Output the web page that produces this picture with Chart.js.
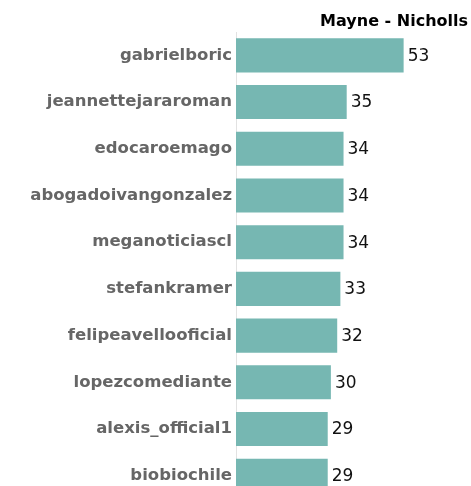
<!DOCTYPE html>
<html>
<head>
<meta charset="utf-8">
<script src="https://cdn.jsdelivr.net/npm/chart.js@4/dist/chart.umd.min.js"></script>
<style>
  html, body { margin: 0; padding: 0; background: #fff; overflow: hidden; }
  #wrap { position: relative; width: 471px; height: 513px; }
</style>
</head>
<body>
<div id="wrap"><canvas id="c" width="471" height="513"></canvas></div>
<script>
const titleText = "Mayne - Nicholls";
const categories = ["gabrielboric", "jeannettejararoman", "edocaroemago", "abogadoivangonzalez", "meganoticiascl", "stefankramer", "felipeavellooficial", "lopezcomediante", "alexis_official1", "biobiochile"];
const values = [53, 35, 34, 34, 34, 33, 32, 30, 29, 29];
const FONT = "'DejaVu Sans', sans-serif";

const labelPlugin = {
  id: 'valueLabels',
  afterDatasetsDraw(chart) {
    const ctx = chart.ctx;
    const meta = chart.getDatasetMeta(0);
    ctx.save();
    ctx.font = "17px " + FONT;
    ctx.fillStyle = "#111";
    ctx.textAlign = "left";
    ctx.textBaseline = "middle";
    meta.data.forEach((bar, i) => {
      ctx.fillText(String(values[i]), bar.x + 4, bar.y + 1);
    });
    ctx.restore();
  }
};

const titlePlugin = {
  id: 'rightTitle',
  afterDraw(chart) {
    const ctx = chart.ctx;
    ctx.save();
    ctx.font = "bold 16px " + FONT;
    ctx.fillStyle = "#000";
    ctx.textAlign = "right";
    ctx.textBaseline = "middle";
    ctx.fillText(titleText, 468, 22);
    ctx.restore();
  }
};

new Chart(document.getElementById('c'), {
  type: 'bar',
  data: {
    labels: categories,
    datasets: [{
      data: values,
      backgroundColor: '#76b7b2',
      borderWidth: 0,
      barPercentage: 0.73,
      categoryPercentage: 1.0
    }]
  },
  options: {
    indexAxis: 'y',
    responsive: false,
    animation: false,
    layout: { padding: { top: 32, right: 0, bottom: 0, left: 0 } },
    plugins: { legend: { display: false }, tooltip: { enabled: false }, title: { display: false } },
    scales: {
      x: { display: false, min: 0, max: 74.3 },
      y: {
        grid: { display: false, drawTicks: false },
        border: { display: true, color: '#e2e2e2', dash: [1, 2], width: 1 },
        ticks: { color: '#666', font: { family: FONT, weight: 'bold', size: 16.5 }, padding: 4 },
        afterFit(scale) { scale.width = 236; }
      }
    }
  },
  plugins: [labelPlugin, titlePlugin]
});
</script>
</body>
</html>
